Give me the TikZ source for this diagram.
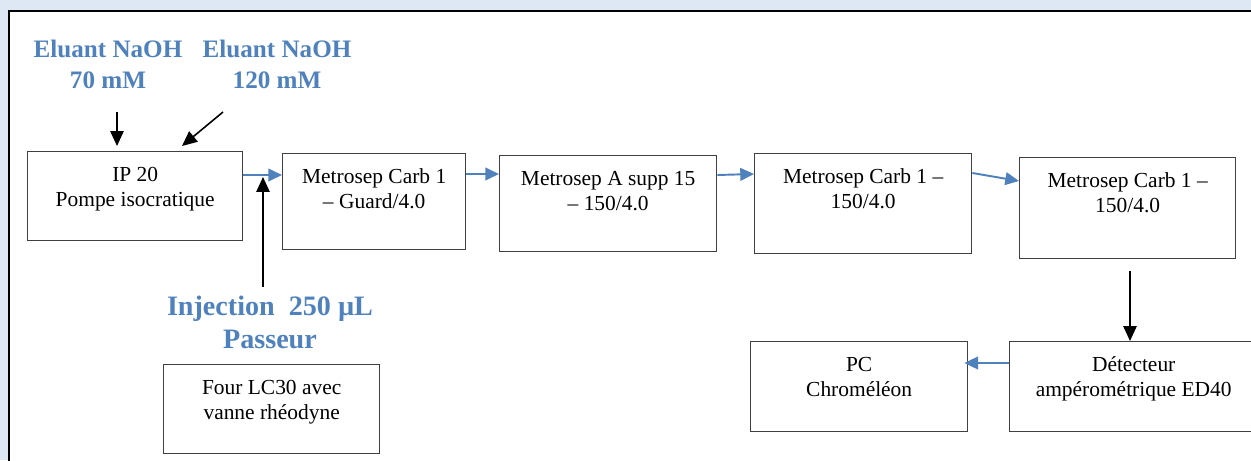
\documentclass[tikz,border=0pt]{standalone}
\usepackage{fontspec}
\setmainfont{Liberation Serif}
\usepackage{tikz}
\usetikzlibrary{arrows.meta,positioning,calc}
\definecolor{bleuword}{RGB}{79,129,189}
\definecolor{fondbleu}{RGB}{222,232,244}
\newcommand{\cadre}[3]{\parbox[t][#2][t]{#1}{\centering\rule{0pt}{17pt}#3}}

\begin{document}
\begin{tikzpicture}[x=0.02cm,y=-0.02cm,
	bloc/.style={draw=black!75,line width=0.8pt,fill=white,anchor=north west,inner sep=0pt,font=\fontsize{12.2}{14.2}\selectfont},
	etiq/.style={text=bleuword,align=center,inner sep=0pt,font=\bfseries\fontsize{14.3}{17.6}\selectfont},
	noir/.style={-{Triangle[length=8.5pt,width=7.6pt]},line width=0.9pt},
	flux/.style={-{Triangle[length=7.8pt,width=7.2pt]},draw=bleuword,line width=1.1pt}]

	\useasboundingbox (0,0) rectangle (1251,460);
	\clip (0,0) rectangle (1251,460);
	\fill[fondbleu] (0,0) rectangle (1251,460);
	\draw[line width=1.3pt,fill=white] (9,11) rectangle (1270,480);

	% eluants et injection
	\node[etiq] (eluA) at (108,64) {Eluant NaOH\\70 mM};
	\node[etiq] (eluB) at (277,64) {Eluant NaOH\\120 mM};
	\node[etiq,font=\bfseries\fontsize{16}{18.7}\selectfont] (inj) at (270,322) {Injection\ \ 250 µL\\Passeur};

	% appareils
	\node[bloc] (pump)   at (27,151)   {\cadre{4.30cm}{1.78cm}{IP 20\\Pompe isocratique}};
	\node[bloc] (guard)  at (282,153)  {\cadre{3.66cm}{1.92cm}{Metrosep Carb 1\\– Guard/4.0}};
	\node[bloc] (asupp)  at (499,155)  {\cadre{4.34cm}{1.92cm}{Metrosep A supp 15\\– 150/4.0}};
	\node[bloc] (carbA)  at (754,153)  {\cadre{4.34cm}{2.00cm}{Metrosep Carb 1 –\\150/4.0}};
	\node[bloc] (carbB)  at (1019,157) {\cadre{4.32cm}{2.02cm}{Metrosep Carb 1 –\\150/4.0}};
	\node[bloc] (detect) at (1009,341) {\cadre{4.96cm}{1.80cm}{Détecteur\\ampérométrique ED40}};
	\node[bloc] (pc)     at (750,341)  {\cadre{4.34cm}{1.80cm}{PC\\Chroméléon}};
	\node[bloc] (four)   at (163,364)  {\cadre{4.32cm}{1.78cm}{Four LC30 avec\\vanne rhéodyne}};

	\coordinate (srcA)  at (117,112);
	\coordinate (srcB)  at (223,112);
	\coordinate (jbas)  at (263,287);
	\coordinate (jhaut) at (263,177);
	\coordinate (dsrc)  at (1130,271);

	\draw[noir] (srcA) -- ($(srcA |- pump.north)+(0,-5)$);
	\draw[noir] (srcB) -- ($(pump.north west)+(155,-5)$);
	\draw[noir] (jbas) -- (jhaut);
	\draw[flux] ($(pump.north east)+(0,24)$)  -- ($(guard.north west)+(0,22)$);
	\draw[flux] ($(guard.north east)+(0,21)$) -- ($(asupp.north west)+(0,19)$);
	\draw[flux] ($(asupp.north east)+(0,20)$) -- ($(carbA.north west)+(0,21)$);
	\draw[flux] ($(carbA.north east)+(0,20)$) -- ($(carbB.north west)+(0,24)$);
	\draw[noir] (dsrc) -- (dsrc |- detect.north);
	\draw[flux] ($(detect.north west)+(0,22)$) -- ($(pc.north east)+(-4,22)$);
\end{tikzpicture}
\end{document}
